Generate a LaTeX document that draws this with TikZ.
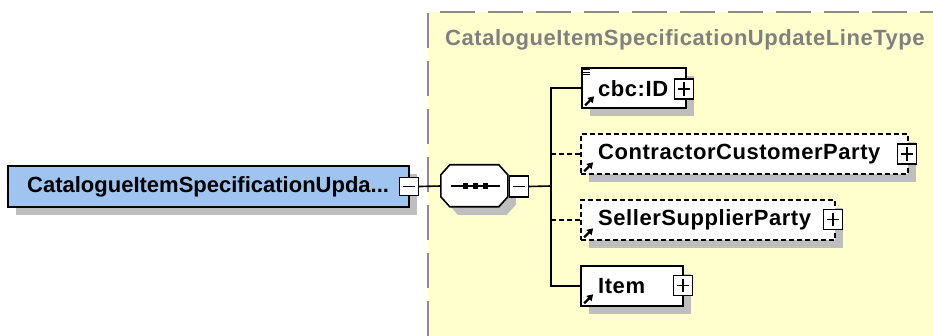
\documentclass[tikz,border=0pt]{standalone}
\usepackage{fontspec}
\setmainfont{Liberation Sans}
\newfontfamily\lblfont[LetterSpace=2.5]{Liberation Sans}
\usetikzlibrary{arrows.meta,shadows}
\definecolor{bluefill}{RGB}{160,196,240}
\definecolor{yellowfill}{RGB}{255,255,206}
\definecolor{shadowgray}{RGB}{190,190,190}
\definecolor{bordergray}{RGB}{140,140,140}
\definecolor{titlegray}{RGB}{128,128,128}
\tikzset{
  shadowed/.style={drop shadow={shadow xshift=8pt, shadow yshift=-8pt, fill=shadowgray, opacity=1}},
  elembox/.style={draw=black, line width=1.6pt, fill=white, inner sep=0pt, shadowed},
  optbox/.style={elembox, dash pattern=on 5pt off 3pt},
  pmbox/.style={draw=black, line width=1.4pt, fill=white, minimum width=19pt, minimum height=20pt, inner sep=0pt},
  lbl/.style={font=\lblfont\bfseries\fontsize{22pt}{24pt}\selectfont, inner sep=0pt, anchor=west},
  mainlbl/.style={font=\bfseries\fontsize{22pt}{24pt}\selectfont, inner sep=0pt, anchor=west},
  conn/.style={line width=1.6pt, draw=black},
  optconn/.style={conn, dash pattern=on 5pt off 3pt},
  refarrow/.style={line width=2.2pt, -{Triangle[length=6pt,width=7pt]}},
}
\begin{document}
\begin{tikzpicture}[x=1pt,y=-1pt]
\useasboundingbox (0,0) rectangle (933,336);
% complex type area
\fill[yellowfill] (428,12) rectangle (933,336);
\draw[bordergray, line width=2pt, dash pattern=on 35pt off 13pt] (428,336) -- (428,12) -- (933,12);
\node[lbl, text=titlegray] (title) at (445,40) {CatalogueItemSpecificationUpdateLineType};
% main element
\node[elembox, fill=bluefill, minimum width=401pt, minimum height=41pt] (main) at (208.5,186.5) {};
\node[mainlbl] (maintext) at (27,186.5) {CatalogueItemSpecificationUpda...};
\node[pmbox, minimum height=18pt] (mainminus) at (409,186.5) {};
\draw[line width=1.4pt] ([xshift=4pt]mainminus.west) -- ([xshift=-4pt]mainminus.east);
% sequence compositor
\node[minimum width=67pt, minimum height=42pt, inner sep=0pt] (seq) at (474.5,186) {};
\fill[shadowgray] ([shift={(8pt,-8pt)}]seq.north west) ++(9,0) -- ++(49,0) -- ++(9,10) -- ++(0,22) -- ++(-9,10) -- ++(-49,0) -- ++(-9,-10) -- ++(0,-22) -- cycle;
\draw[line width=1.6pt, fill=white] (seq.north west) ++(9,0) -- ++(49,0) -- ++(9,10) -- ++(0,22) -- ++(-9,10) -- ++(-49,0) -- ++(-9,-10) -- ++(0,-22) -- cycle;
\draw[line width=1.4pt] ([xshift=10pt]seq.west) -- ([xshift=-8pt]seq.east);
\foreach \dx in {-9,1,11} \fill ([xshift=\dx pt]seq.center) +(-2.8,-2.8) rectangle +(2.8,2.8);
\node[pmbox, minimum height=21pt] (seqminus) at (519,186.5) {};
\draw[line width=1.4pt] ([xshift=4pt]seqminus.west) -- ([xshift=-4pt]seqminus.east);
\draw[conn] (mainminus.east) -- (seq.west);
% children
\node[elembox, minimum width=104pt, minimum height=40pt] (id) at (634,88) {};
\node[lbl] (idtext) at (598,89) {cbc:ID};
\node[optbox, minimum width=327pt, minimum height=40pt] (ccp) at (744.5,154) {};
\node[lbl] (ccptext) at (598,154) {ContractorCustomerParty};
\node[optbox, minimum width=254pt, minimum height=40pt] (ssp) at (708,220) {};
\node[lbl] (ssptext) at (598,220) {SellerSupplierParty};
\node[elembox, minimum width=102pt, minimum height=40pt] (item) at (632,286) {};
\node[lbl] (itemtext) at (598,286) {Item};
% plus boxes
\foreach \n/\x/\y in {idplus/684/89, ccpplus/907/154, sspplus/833/219.5, itemplus/683/285.5} {
  \node[pmbox] (\n) at (\x,\y) {};
  \draw[line width=1.4pt] ([xshift=4pt]\n.west) -- ([xshift=-4pt]\n.east);
  \draw[line width=1.4pt] ([yshift=-4pt]\n.north) -- ([yshift=4pt]\n.south);
}
% reference arrows
\foreach \n in {id,ccp,ssp,item}
  \draw[refarrow] ([shift={(4pt,3.5pt)}]\n.south west) -- ++(9,-9);
% simple content icon
\foreach \dy in {2.5,5,7.5}
  \draw[line width=1.2pt] ([shift={(1.5pt,-\dy pt)}]id.north west) -- ++(7,0);
% connectors
\coordinate (jn) at (551,186);
\draw[conn] (seqminus.east) -- (jn);
\draw[conn] (jn) |- (id.west);
\draw[conn] (jn) |- (item.west);
\draw[optconn] (jn |- ccp.west) -- (ccp.west);
\draw[optconn] (jn |- ssp.west) -- (ssp.west);
\end{tikzpicture}
\end{document}
